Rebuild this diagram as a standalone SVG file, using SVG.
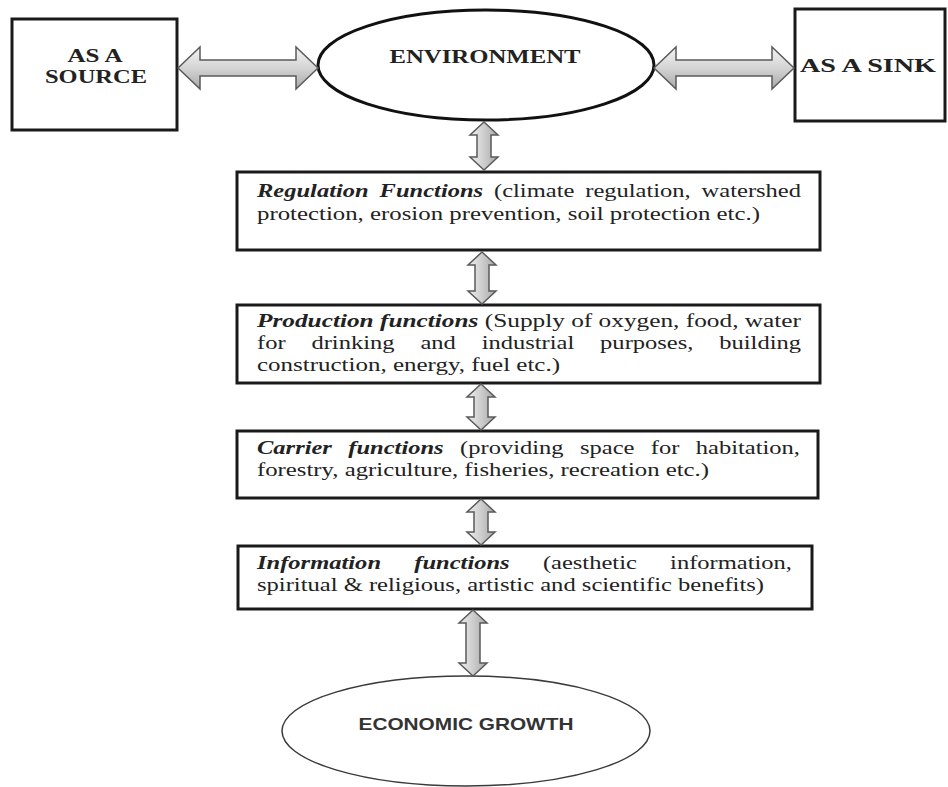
<svg xmlns="http://www.w3.org/2000/svg" width="948" height="787" viewBox="0 0 948 787">
<defs>
<linearGradient id="gh" x1="0" y1="0" x2="0" y2="1">
<stop offset="0" stop-color="#f4f4f4"/>
<stop offset="0.5" stop-color="#d4d4d4"/>
<stop offset="1" stop-color="#a9a9a9"/>
</linearGradient>
<linearGradient id="gv" x1="0" y1="0" x2="1" y2="0">
<stop offset="0" stop-color="#f0f0f0"/>
<stop offset="0.5" stop-color="#cdcdcd"/>
<stop offset="1" stop-color="#a8a8a8"/>
</linearGradient>
<style>
.box{fill:#fff;stroke:#1a1a1a;stroke-width:3}
.ell{fill:#fff;stroke:#111;stroke-width:3}
.ell2{fill:#fff;stroke:#3a3a3a;stroke-width:1.5}
.t{font-family:"Liberation Serif","Times New Roman",serif;font-size:19px;fill:#222}
.h{font-weight:bold;text-anchor:middle}
.bi{font-weight:bold;font-style:italic}
.s{font-family:"Liberation Sans",Arial,sans-serif;font-size:17px;font-weight:bold;fill:#333;text-anchor:middle}
.ah{fill:url(#gh);stroke:#5a5a5a;stroke-width:1.5;stroke-linejoin:miter}
.av{fill:url(#gv);stroke:#5a5a5a;stroke-width:1.5;stroke-linejoin:miter}
</style>
</defs>
<rect width="948" height="787" fill="#fff"/>

<g id="source">
<rect class="box" x="12" y="19" width="165" height="111"/>
<text class="t h" x="95" y="62" textLength="55" lengthAdjust="spacingAndGlyphs">AS A</text>
<text class="t h" x="96" y="83" textLength="102" lengthAdjust="spacingAndGlyphs">SOURCE</text>
</g>

<g id="environment">
<ellipse class="ell" cx="486" cy="65" rx="168" ry="55"/>
<text class="t h" x="485" y="63" textLength="191" lengthAdjust="spacingAndGlyphs">ENVIRONMENT</text>
</g>

<g id="sink">
<rect class="box" x="795" y="9" width="150" height="112"/>
<text class="t h" x="868" y="72" textLength="136" lengthAdjust="spacingAndGlyphs">AS A SINK</text>
</g>

<g id="regulation">
<rect class="box" x="237" y="172" width="583" height="78"/>
<text class="t" x="257" y="197" textLength="544" lengthAdjust="spacingAndGlyphs" style="word-spacing:3.7px"><tspan class="bi">Regulation Functions</tspan> (climate regulation, watershed</text>
<text class="t" x="257" y="220" textLength="503" lengthAdjust="spacingAndGlyphs">protection, erosion prevention, soil protection etc.)</text>
</g>

<g id="production">
<rect class="box" x="237" y="305" width="583" height="78"/>
<text class="t" x="257" y="327" textLength="544" lengthAdjust="spacingAndGlyphs"><tspan class="bi">Production functions</tspan> (Supply of oxygen, food, water</text>
<text class="t" x="257" y="349" textLength="544" lengthAdjust="spacingAndGlyphs" style="word-spacing:15.3px">for drinking and industrial purposes, building</text>
<text class="t" x="257" y="371" textLength="303" lengthAdjust="spacingAndGlyphs">construction, energy, fuel etc.)</text>
</g>

<g id="carrier">
<rect class="box" x="237" y="431" width="581" height="67"/>
<text class="t" x="257" y="454" textLength="543" lengthAdjust="spacingAndGlyphs" style="word-spacing:8px"><tspan class="bi">Carrier functions</tspan> (providing space for habitation,</text>
<text class="t" x="257" y="476" textLength="452" lengthAdjust="spacingAndGlyphs">forestry, agriculture, fisheries, recreation etc.)</text>
</g>

<g id="information">
<rect class="box" x="238" y="546" width="574" height="63"/>
<text class="t" x="257" y="569" textLength="535" lengthAdjust="spacingAndGlyphs" style="word-spacing:21px"><tspan class="bi">Information functions</tspan> (aesthetic information,</text>
<text class="t" x="257" y="591" textLength="507" lengthAdjust="spacingAndGlyphs">spiritual &amp; religious, artistic and scientific benefits)</text>
</g>

<g id="economic-growth">
<ellipse class="ell2" cx="466" cy="731" rx="184" ry="55"/>
<text class="s" x="466" y="730" textLength="215" lengthAdjust="spacingAndGlyphs">ECONOMIC GROWTH</text>
</g>

<g id="connectors">
<path class="ah" d="M178,68 L200,47 L200,60 L296,60 L296,47 L318,68 L296,89 L296,76 L200,76 L200,89 Z"/>
<path class="ah" d="M654,68 L676,47 L676,60 L772,60 L772,47 L794,68 L772,89 L772,76 L676,76 L676,89 Z"/>
<path class="av" d="M484,122 L498,135 L491,135 L491,157 L498,157 L484,170 L470,157 L477,157 L477,135 L470,135 Z"/>
<path class="av" d="M482,252 L496,265 L489,265 L489,291 L496,291 L482,304 L468,291 L475,291 L475,265 L468,265 Z"/>
<path class="av" d="M481,384 L495,397 L488,397 L488,417 L495,417 L481,430 L467,417 L474,417 L474,397 L467,397 Z"/>
<path class="av" d="M481,499 L495,512 L488,512 L488,532 L495,532 L481,545 L467,532 L474,532 L474,512 L467,512 Z"/>
<path class="av" d="M473,610 L487,623 L480,623 L480,663 L487,663 L473,676 L459,663 L466,663 L466,623 L459,623 Z"/>
</g>
</svg>
